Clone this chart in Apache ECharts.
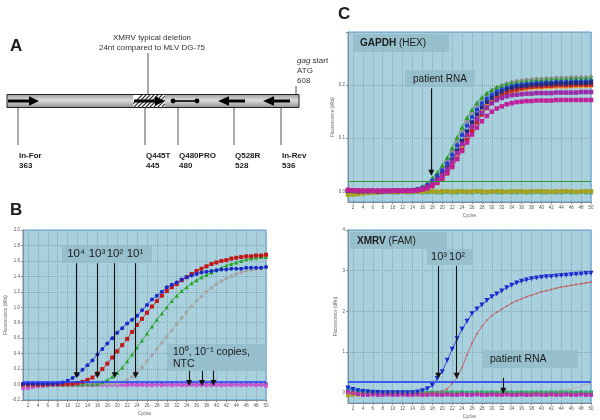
<!DOCTYPE html>
<html><head><meta charset="utf-8">
<script src="https://cdn.jsdelivr.net/npm/echarts@6/dist/echarts.min.js"></script>
<style>html,body{margin:0;padding:0;background:#fff}#c{width:600px;height:420px}</style>
</head><body><div id="c"></div>
<script>
// ---------- data ----------
const cycles = [1,2,3,4,5,6,7,8,9,10,11,12,13,14,15,16,17,18,19,20,21,22,23,24,25,26,27,28,29,30,31,32,33,34,35,36,37,38,39,40,41,42,43,44,45,46,47,48,49,50];
const cycleTicks = [2,4,6,8,10,12,14,16,18,20,22,24,26,28,30,32,34,36,38,40,42,44,46,48,50];
const cTopYTicks = [0,0.1,0.2,0.3];
const cTopYLabels = [0,0.1,0.2];
const cBotYTicks = [0,1,2,3,4];

// Panel B: standard dilution series
const b1e4 = [0.01,0.01,0.01,0.01,0.01,0.01,0.01,0.015,0.025,0.05, 0.085,0.13,0.19,0.25,0.31,0.39,0.46,0.53,0.60,0.67, 0.73,0.79,0.84,0.89,0.96,1.03,1.10,1.15,1.20,1.26, 1.29,1.32,1.36,1.39,1.41,1.43,1.45,1.46,1.47,1.48, 1.49,1.49,1.50,1.50,1.50,1.51,1.51,1.51,1.51,1.52];
const b1e3 = [0.0,0.0,0.0,0.0,0.0,0.005,0.005,0.005,0.005,0.01, 0.01,0.02,0.035,0.06,0.09,0.14,0.2,0.27,0.35,0.43, 0.51,0.59,0.68,0.77,0.85,0.93,1.01,1.08,1.15,1.21, 1.26,1.30,1.35,1.39,1.43,1.47,1.50,1.53,1.56,1.58, 1.60,1.61,1.63,1.64,1.65,1.66,1.66,1.67,1.67,1.68];
const b1e2 = [0,0,0,0,0,0,0,0,0,0, 0,0,0.005,0.005,0.005,0.01,0.03,0.06,0.10,0.15, 0.22,0.30,0.39,0.48,0.57,0.66,0.75,0.84,0.92,1.00, 1.08,1.15,1.21,1.26,1.31,1.35,1.39,1.42,1.45,1.48, 1.51,1.54,1.56,1.58,1.60,1.62,1.63,1.64,1.65,1.65];
const b1e1 = [0,0,0,0,0,0,0,0,0,0, 0,0,0,0,0,0,0,0.005,0.005,0.01, 0.03,0.06,0.10,0.15,0.22,0.30,0.38,0.46,0.54,0.62, 0.70,0.78,0.86,0.94,1.01,1.08,1.14,1.20,1.25,1.30, 1.34,1.37,1.40,1.43,1.45,1.47,1.48,1.49,1.50,1.51];
const b1e0 = [-0.05,-0.045,-0.035,-0.025,-0.02,-0.015,-0.01,-0.01,-0.01,-0.01, -0.01,-0.005,-0.01,-0.005,-0.01,-0.005,-0.01,-0.01,-0.005,-0.01, -0.005,-0.01,-0.005,-0.01,-0.005,-0.01,-0.01,-0.005,-0.01,-0.005, -0.01,-0.005,-0.01,-0.01,-0.005,-0.01,-0.005,-0.01,-0.01,-0.005, -0.01,-0.005,-0.01,-0.005,-0.01,-0.01,-0.005,-0.01,-0.005,-0.02];
const b1em1 = [0.0,0.0,0.005,0.005,0.0,0.005,0.0,0.005,0.0,0.0, 0.005,0.0,0.0,0.005,0.0,0.0,0.005,0.0,0.0,0.005, 0.0,0.0,0.005,0.0,0.0,0.005,0.0,0.0,0.005,0.0, 0.0,0.005,0.0,0.0,0.005,0.0,0.0,0.005,0.0,0.0, 0.005,0.0,0.0,0.005,0.0,0.0,0.005,0.0,0.0,0.005];
const bNTC = [0.015,0.012,0.01,0.008,0.006,0.005,0.01,0.005,0.005,0.01, 0.005,0.005,0.01,0.005,0.005,0.01,0.005,0.005,0.01,0.005, 0.005,0.01,0.005,0.005,0.01,0.005,0.005,0.01,0.005,0.005, 0.01,0.005,0.005,0.01,0.005,0.005,0.01,0.005,0.005,0.01, 0.005,0.005,0.01,0.005,0.005,0.01,0.005,0.005,0.01,0.005];
const bThreshold = 0.03;

// Panel C top: GAPDH (HEX)
const gGreen = [0.001,0.001,0.0,0.001,0.001,0.0,0.001,0.001,0.001,0.001, 0.001,0.002,0.002,0.003,0.005,0.009,0.016,0.025,0.036,0.049, 0.064,0.082,0.102,0.121,0.139,0.154,0.167,0.177,0.185,0.191, 0.196,0.199,0.202,0.204,0.205,0.206,0.207,0.208,0.209,0.209, 0.21,0.21,0.211,0.211,0.211,0.212,0.212,0.212,0.212,0.213];
const gGray = [0.001,0.001,0.001,0.001,0.001,0.0,0.001,0.001,0.001,0.001, 0.001,0.002,0.002,0.003,0.004,0.008,0.014,0.022,0.032,0.044, 0.058,0.075,0.094,0.114,0.133,0.149,0.163,0.174,0.183,0.19, 0.196,0.2,0.203,0.206,0.208,0.209,0.21,0.211,0.212,0.212, 0.213,0.213,0.214,0.214,0.214,0.215,0.215,0.215,0.215,0.216];
const gBlue = [0.002,0.001,0.001,0.001,0.0,0.001,0.001,0.001,0.0,0.001, 0.001,0.001,0.002,0.002,0.004,0.007,0.012,0.02,0.029,0.04, 0.053,0.069,0.087,0.106,0.124,0.14,0.154,0.166,0.175,0.182, 0.188,0.192,0.195,0.198,0.2,0.201,0.202,0.203,0.204,0.204, 0.205,0.205,0.206,0.206,0.206,0.207,0.207,0.207,0.207,0.208];
const gNavy = [0.001,0.001,0.001,0.0,0.001,0.001,0.0,0.001,0.001,0.001, 0.001,0.001,0.001,0.002,0.003,0.005,0.009,0.015,0.023,0.033, 0.045,0.06,0.077,0.095,0.113,0.13,0.145,0.158,0.168,0.176, 0.183,0.188,0.192,0.195,0.197,0.198,0.199,0.2,0.201,0.201, 0.202,0.202,0.203,0.203,0.203,0.204,0.204,0.204,0.204,0.205];
const gOrange = [0.0,0.001,0.001,0.001,0.001,0.0,0.001,0.001,0.001,0.0, 0.001,0.001,0.001,0.001,0.002,0.004,0.008,0.013,0.02,0.029, 0.04,0.054,0.07,0.087,0.105,0.122,0.137,0.15,0.161,0.169, 0.176,0.181,0.185,0.188,0.19,0.192,0.193,0.194,0.195,0.195, 0.196,0.196,0.197,0.197,0.197,0.198,0.198,0.198,0.198,0.199];
const gRed = [0.001,0.001,0.0,0.001,0.001,0.001,0.0,0.001,0.001,0.001, 0.001,0.001,0.001,0.001,0.002,0.003,0.006,0.01,0.016,0.024, 0.034,0.046,0.061,0.078,0.096,0.114,0.13,0.145,0.157,0.167, 0.175,0.181,0.186,0.19,0.192,0.194,0.196,0.197,0.198,0.198, 0.199,0.199,0.2,0.2,0.2,0.2,0.201,0.201,0.201,0.201];
const gPurple = [0.002,0.002,0.001,0.001,0.001,0.001,0.001,0.0,0.001,0.001, 0.001,0.001,0.001,0.002,0.003,0.005,0.009,0.015,0.022,0.031, 0.042,0.056,0.072,0.089,0.106,0.122,0.136,0.148,0.158,0.166, 0.172,0.176,0.179,0.181,0.182,0.183,0.184,0.184,0.185,0.185, 0.185,0.185,0.186,0.186,0.186,0.186,0.186,0.187,0.187,0.187];
const gMagenta = [0.003,0.002,0.002,0.001,0.001,0.001,0.001,0.001,0.001,0.001, 0.001,0.001,0.001,0.001,0.002,0.003,0.006,0.011,0.017,0.025, 0.035,0.047,0.061,0.076,0.092,0.107,0.12,0.132,0.142,0.15, 0.156,0.16,0.164,0.166,0.168,0.169,0.17,0.17,0.171,0.171, 0.171,0.171,0.172,0.172,0.172,0.172,0.172,0.172,0.172,0.172];
const gNtcOlive = [-0.006,-0.006,-0.005,-0.004,-0.003,-0.002,-0.002,-0.001,-0.001,-0.001, -0.001,0.0,-0.001,0.0,0.0,-0.001,0.0,0.0,-0.001,0.0, 0.0,-0.001,0.0,0.0,-0.001,0.0,0.0,0.0,-0.001,0.0, 0.0,0.0,-0.001,0.0,0.0,0.0,-0.001,0.0,0.0,0.0, 0.0,-0.001,0.0,0.0,0.0,0.0,-0.001,0.0,0.0,0.0];
const gNtcTeal = [-0.003,-0.003,-0.003,-0.002,-0.002,-0.002,-0.002,-0.002,-0.001,-0.002, -0.002,-0.001,-0.002,-0.002,-0.001,-0.002,-0.002,-0.001,-0.002,-0.002, -0.001,-0.002,-0.002,-0.001,-0.002,-0.002,-0.001,-0.002,-0.002,-0.001, -0.002,-0.002,-0.001,-0.002,-0.002,-0.001,-0.002,-0.002,-0.001,-0.002, -0.002,-0.001,-0.002,-0.002,-0.001,-0.002,-0.002,-0.001,-0.002,-0.002];
const gNtcLime = [0.001,0.001,0.001,0.001,0.001,0.001,0.002,0.001,0.001,0.002, 0.001,0.001,0.002,0.001,0.001,0.002,0.001,0.001,0.002,0.001, 0.001,0.002,0.001,0.001,0.002,0.001,0.001,0.002,0.001,0.001, 0.002,0.001,0.001,0.002,0.001,0.001,0.002,0.001,0.001,0.002, 0.001,0.001,0.002,0.001,0.001,0.002,0.001,0.001,0.002,0.001];
const gThreshold = 0.018;

// Panel C bottom: XMRV (FAM)
const x1e3 = [0.12,0.08,0.05,0.03,0.02,0.01,0.01,0.0,0.0,0.0, 0.0,0.0,0.0,0.0,0.02,0.05,0.1,0.18,0.35,0.52, 0.8,1.07,1.33,1.56,1.76,1.94,2.06,2.16,2.27,2.36, 2.43,2.5,2.58,2.64,2.7,2.74,2.77,2.8,2.82,2.84, 2.85,2.86,2.87,2.88,2.89,2.9,2.91,2.92,2.93,2.94];
const x1e2 = [0,0,0,0,0,0,0,0,0,0, 0,0,0,0,0,0,0,0.01,0.02,0.04, 0.1,0.22,0.37,0.63,0.93,1.22,1.45,1.63,1.78,1.9, 1.98,2.06,2.13,2.2,2.26,2.31,2.36,2.4,2.44,2.48, 2.51,2.54,2.57,2.6,2.62,2.64,2.66,2.68,2.7,2.72];
const xLate = [0,0,0,0,0,0,0,0,0,0, 0,0,0,0,0,0,0,0,0,0, 0,0,0,0,0,0,0,0,0,0, 0,0,0,0,0,0,0,0,0,0.01, 0.02,0.03,0.045,0.06,0.08,0.1,0.13,0.16,0.2,0.24];
const xMag = [0.02,0.0,-0.03,-0.05,-0.05,-0.04,-0.05,-0.05,-0.04,-0.05, -0.05,-0.04,-0.05,-0.05,-0.04,-0.05,-0.05,-0.04,-0.05,-0.05, -0.04,-0.05,-0.05,-0.04,-0.05,-0.05,-0.04,-0.05,-0.05,-0.04, -0.05,-0.05,-0.04,-0.05,-0.05,-0.04,-0.05,-0.05,-0.04,-0.05, -0.05,-0.04,-0.05,-0.05,-0.04,-0.05,-0.05,-0.04,-0.05,-0.05];
const xGreen = [0.06,0.05,0.04,0.03,0.03,0.02,0.03,0.02,0.02,0.03, 0.02,0.03,0.02,0.02,0.03,0.02,0.02,0.03,0.02,0.02, 0.03,0.02,0.02,0.03,0.02,0.02,0.03,0.02,0.02,0.03, 0.02,0.02,0.03,0.02,0.02,0.03,0.02,0.02,0.03,0.02, 0.02,0.03,0.02,0.02,0.03,0.02,0.02,0.03,0.02,0.02];
const xOlive = [-0.06,-0.05,-0.04,-0.03,-0.02,-0.02,-0.01,-0.02,-0.01,-0.02, -0.01,-0.02,-0.01,-0.02,-0.01,-0.02,-0.01,-0.02,-0.01,-0.02, -0.01,-0.02,-0.01,-0.02,-0.01,-0.02,-0.01,-0.02,-0.01,-0.02, -0.01,-0.02,-0.01,-0.02,-0.01,-0.02,-0.01,-0.02,-0.01,-0.02, -0.01,-0.02,-0.01,-0.02,-0.01,-0.02,-0.01,-0.02,-0.01,-0.02];
const xTeal = [0.1,0.08,0.06,0.05,0.04,0.03,0.02,0.02,0.01,0.01, 0.0,0.01,0.0,0.01,0.0,0.01,0.0,0.01,0.0,0.01, 0.0,0.01,0.0,0.01,0.0,0.01,0.0,0.01,0.0,0.01, 0.0,0.01,0.0,0.01,0.0,0.01,0.0,0.01,0.0,0.01, 0.0,0.01,0.0,0.01,0.0,0.01,0.0,0.01,0.0,0.01];
const xOrange = [-0.03,-0.03,-0.02,-0.03,-0.02,-0.03,-0.02,-0.03,-0.02,-0.03, -0.02,-0.03,-0.02,-0.03,-0.02,-0.03,-0.02,-0.03,-0.02,-0.03, -0.02,-0.03,-0.02,-0.03,-0.02,-0.03,-0.02,-0.03,-0.02,-0.03, -0.02,-0.03,-0.02,-0.03,-0.02,-0.03,-0.02,-0.03,-0.02,-0.03, -0.02,-0.03,-0.02,-0.03,-0.02,-0.03,-0.02,-0.03,-0.02,-0.03];
const xThreshold = 0.26;

// annotation arrows in data coordinates: [cycle, fromY, toY]
const bArrowsBig = [[11.8,1.57,0.12],[16,1.57,0.12],[19.5,1.57,0.12],[23.7,1.57,0.12]];
const bArrowsSmall = [[34.5,0.19,0.02],[37.1,0.19,0.02],[39.4,0.2,0.02]];
const cTopArrows = [[17.8,0.194,0.035]];
const cBotArrows = [[19.2,3.12,0.42],[22.9,3.12,0.42],[32.3,0.37,0.05]];

// ---------- chart ----------
const FONT = 'Liberation Sans, Arial, sans-serif';
const PLOT_BG = '#a9d1dd';
const BOX = '#95bdca';
const grids = [
  {left:23, top:230, width:243, height:170},
  {left:348, top:32, width:243, height:170},
  {left:348, top:230, width:243, height:173}
];

function pts(arr){ return cycles.map((c,i)=>[c, arr[i]]); }
function ser(arr, gi, color, symbol, size, extra){
  return Object.assign({
    type:'line', xAxisIndex:gi, yAxisIndex:gi, data:pts(arr),
    symbol:symbol, symbolSize:size, showSymbol:true,
    itemStyle:{color:color}, lineStyle:{color:color, width:0.8},
    silent:true, animation:false, z:3
  }, extra||{});
}
function arrows(list){
  return {
    silent:true, animation:false, symbol:['none','triangle'], symbolSize:6,
    label:{show:false}, lineStyle:{color:'#111', width:1.1, type:'solid'},
    itemStyle:{color:'#111'},
    data:list.map(a=>[{coord:[a[0],a[1]]},{coord:[a[0],a[2]]}])
  };
}
function thresh(v, color, w){
  return {silent:true, animation:false, symbol:['none','none'], label:{show:false},
    lineStyle:{color:color, width:w, type:'solid'}, data:[{yAxis:v}]};
}

const axisCommon = {
  axisLine:{show:true, onZero:false, lineStyle:{color:'#8a8a8a', width:1}},
  axisLabel:{fontSize:4.5, color:'#555', fontFamily:FONT, margin:3},
  nameTextStyle:{fontSize:4.5, color:'#666', fontFamily:FONT},
  splitLine:{show:true, lineStyle:{color:'#86a6b0', type:'dotted', width:1}}
};
function xAx(gi){
  return Object.assign({}, axisCommon, {
    gridIndex:gi, type:'value', min:1, max:50, name:'Cycles', nameLocation:'middle', nameGap:11,
    axisTick:{show:true, length:2, customValues:cycleTicks, lineStyle:{color:'#8a8a8a'}},
    axisLabel:Object.assign({}, axisCommon.axisLabel, {customValues:cycleTicks})
  });
}
const yAxes = [
  Object.assign({}, axisCommon, {gridIndex:0, type:'value', min:-0.2, max:2.0, interval:0.2,
    name:'Fluorescence (dRn)', nameLocation:'middle', nameGap:12,
    axisTick:{show:true, length:2},
    axisLabel:Object.assign({}, axisCommon.axisLabel, {formatter:v=>v.toFixed(1)})}),
  Object.assign({}, axisCommon, {gridIndex:1, type:'value', min:-0.02, max:0.3,
    name:'Fluorescence (dRn)', nameLocation:'middle', nameGap:12,
    axisTick:{show:true, length:2, customValues:cTopYTicks},
    axisLabel:Object.assign({}, axisCommon.axisLabel, {customValues:cTopYLabels, formatter:v=>v.toFixed(1)})}),
  Object.assign({}, axisCommon, {gridIndex:2, type:'value', min:-0.25, max:4,
    name:'Fluorescence (dRn)', nameLocation:'middle', nameGap:10,
    axisTick:{show:true, length:2, customValues:cBotYTicks},
    axisLabel:Object.assign({}, axisCommon.axisLabel, {customValues:cBotYTicks, formatter:v=>String(v)})})
];

const series = [
  // Panel B
  ser(bNTC, 0, '#9a9a9a', 'diamond', 4),
  ser(b1em1, 0, '#8a4fb0', 'rect', 3.5),
  ser(b1e0, 0, '#d452d4', 'rect', 3.5, {markLine:thresh(bThreshold, '#1f3cff', 1.5)}),
  ser(b1e1, 0, '#a4a4a4', 'diamond', 4.5),
  ser(b1e2, 0, '#23a323', 'triangle', 4),
  ser(b1e3, 0, '#c01818', 'rect', 4),
  ser(b1e4, 0, '#1a28c8', 'circle', 4, {markLine:arrows(bArrowsBig.concat(bArrowsSmall))}),
  // Panel C top
  ser(gNtcTeal, 1, '#3aa39a', 'rect', 4),
  ser(gNtcLime, 1, '#8cb82a', 'triangle', 4),
  ser(gNtcOlive, 1, '#a6a21e', 'rect', 4.5, {markLine:thresh(gThreshold, '#2f9a2f', 1)}),
  ser(gGray, 1, '#8f8f8f', 'diamond', 5),
  ser(gGreen, 1, '#2a9d2a', 'triangle', 5),
  ser(gOrange, 1, '#f59a14', 'circle', 4.5),
  ser(gRed, 1, '#c02525', 'rect', 4.5),
  ser(gBlue, 1, '#2540d0', 'circle', 4.5),
  ser(gNavy, 1, '#202a80', 'rect', 4),
  ser(gPurple, 1, '#9a2aa8', 'rect', 4.5),
  ser(gMagenta, 1, '#c0209a', 'rect', 4.5, {markLine:arrows(cTopArrows)}),
  // Panel C bottom
  ser(xOrange, 2, '#f08a10', 'rect', 4),
  ser(xOlive, 2, '#a8a020', 'rect', 4),
  ser(xTeal, 2, '#28a0a0', 'rect', 4),
  ser(xGreen, 2, '#30b040', 'triangle', 4),
  ser(xMag, 2, '#b62cb6', 'rect', 4, {markLine:thresh(xThreshold, '#3c5cf2', 2)}),
  ser(xLate, 2, '#b0a8a8', 'none', 1, {lineStyle:{color:'#b8aaaa', width:1}}),
  ser(x1e2, 2, '#c06060', 'circle', 2, {lineStyle:{color:'#c05a5a', width:0.9}}),
  ser(x1e3, 2, '#1c2ad0', 'triangle', 5, {symbolRotate:180, markLine:arrows(cBotArrows)})
];

function box(x,y,w,h){ return {type:'rect', z:50, shape:{x:x,y:y,width:w,height:h}, style:{fill:BOX, opacity:0.9}}; }
function txt(t, x, y, size, opts){
  const o = opts||{};
  return {type:'text', z:60, x:x, y:y, style:Object.assign({text:t, fontSize:size, fontFamily:FONT,
    fill:'#1a1a1a', align:o.align||'left', verticalAlign:'middle',
    textAlign:o.align||'left', textVerticalAlign:'middle', fontWeight:o.bold?'bold':'normal',
    fontStyle:o.italic?'italic':'normal'}, o.style||{})};
}
function line(x1,y1,x2,y2,c,w,z){ return {type:'line', z:z||40, shape:{x1:x1,y1:y1,x2:x2,y2:y2}, style:{stroke:c||'#444', lineWidth:w||1}}; }
function poly(points, fill){ return {type:'polygon', z:45, shape:{points:points}, style:{fill:fill||'#000'}}; }

const hatch = [];
for (let k = 0; k < 11; k++) {
  const x0 = 130 + k*4;
  hatch.push({type:'line', z:43, shape:{x1:x0, y1:107, x2:x0+12, y2:95}, style:{stroke:'#333', lineWidth:1.2}});
}

const graphic = [
  // panel letters
  txt('A', 10, 46, 17, {bold:true}),
  txt('B', 10, 210, 17, {bold:true}),
  txt('C', 338, 14, 17, {bold:true}),
  // panel A
  txt('XMRV typical deletion', 152, 38, 8, {align:'center', style:{fill:'#333'}}),
  txt('24nt compared to MLV DG-75', 152, 48, 8, {align:'center', style:{fill:'#333'}}),
  line(148, 53, 148, 95, '#555', 1),
  {type:'text', z:60, x:297, y:61, style:{text:'{i|gag} start', fontSize:8, fontFamily:FONT, fill:'#333', verticalAlign:'middle', textVerticalAlign:'middle', rich:{i:{fontStyle:'italic', fontSize:8, fontFamily:FONT, fill:'#333'}}}},
  txt('ATG', 297, 71, 8, {style:{fill:'#333'}}),
  txt('608', 297, 81, 8, {style:{fill:'#333'}}),
  line(296, 86, 296, 95, '#555', 1),
  {type:'rect', z:41, shape:{x:7, y:94.5, width:292, height:13}, style:{stroke:'#222', lineWidth:1,
    fill:{type:'linear', x:0, y:0, x2:0, y2:1, colorStops:[{offset:0, color:'#9a9a9a'},{offset:0.45, color:'#dcdcdc'},{offset:1, color:'#8c8c8c'}]}}},
  {type:'rect', z:42, shape:{x:133, y:95, width:32, height:12}, style:{fill:'#ffffff'}},
  {type:'group', z:43, children:hatch, clipPath:{type:'rect', shape:{x:133, y:95, width:32, height:12}}},
  poly([[8,99.4],[29,99.4],[29,96.2],[39,101],[29,105.8],[29,102.6],[8,102.6]]),
  poly([[134,99.4],[155,99.4],[155,96.2],[165,101],[155,105.8],[155,102.6],[134,102.6]]),
  line(173, 101, 197, 101, '#000', 1.6, 46),
  {type:'circle', z:46, shape:{cx:173, cy:101, r:2.4}, style:{fill:'#000'}},
  {type:'circle', z:46, shape:{cx:197, cy:101, r:2.4}, style:{fill:'#000'}},
  poly([[245,99.4],[229,99.4],[229,96.2],[218,101],[229,105.8],[229,102.6],[245,102.6]]),
  poly([[290,99.4],[274,99.4],[274,96.2],[263,101],[274,105.8],[274,102.6],[290,102.6]]),
  line(18, 108, 18, 145, '#555', 1),
  line(145, 108, 145, 145, '#555', 1),
  line(178, 103, 178, 145, '#555', 1),
  line(234, 108, 234, 145, '#555', 1),
  line(281, 108, 281, 145, '#555', 1),
  txt('In-For', 19, 156, 8, {bold:true}), txt('363', 19, 166, 8, {bold:true}),
  txt('Q445T', 146, 156, 8, {bold:true}), txt('445', 146, 166, 8, {bold:true}),
  txt('Q480PRO', 179, 156, 8, {bold:true}), txt('480', 179, 166, 8, {bold:true}),
  txt('Q528R', 235, 156, 8, {bold:true}), txt('528', 235, 166, 8, {bold:true}),
  txt('In-Rev', 282, 156, 8, {bold:true}), txt('536', 282, 166, 8, {bold:true}),
  // panel B boxes
  box(62, 245, 90, 18),
  txt('10⁴', 76, 254, 11.5, {align:'center'}),
  txt('10³', 97, 254, 11.5, {align:'center'}),
  txt('10²', 115, 254, 11.5, {align:'center'}),
  txt('10¹', 135, 254, 11.5, {align:'center'}),
  box(168, 344, 98, 27),
  txt('10⁰, 10⁻¹ copies,', 173, 352, 10.5),
  txt('NTC', 173, 364, 10.5),
  // panel C top boxes
  box(353, 34, 96, 18),
  {type:'text', z:60, x:360, y:43, style:{text:'{b|GAPDH} (HEX)', fontSize:10, fontFamily:FONT, fill:'#1a1a1a', verticalAlign:'middle', textVerticalAlign:'middle', rich:{b:{fontWeight:'bold', fontSize:10, fontFamily:FONT, fill:'#1a1a1a'}}}},
  box(405, 70, 70, 17),
  txt('patient RNA', 440, 79, 10, {align:'center'}),
  // panel C bottom boxes
  box(350, 232, 97, 17),
  {type:'text', z:60, x:357, y:241, style:{text:'{b|XMRV} (FAM)', fontSize:10, fontFamily:FONT, fill:'#1a1a1a', verticalAlign:'middle', textVerticalAlign:'middle', rich:{b:{fontWeight:'bold', fontSize:10, fontFamily:FONT, fill:'#1a1a1a'}}}},
  box(427, 249, 46, 16),
  txt('10³', 439, 257, 11, {align:'center'}),
  txt('10²', 457, 257, 11, {align:'center'}),
  box(483, 350, 95, 18),
  txt('patient RNA', 490, 359, 10.5)
];

const chart = echarts.init(document.getElementById('c'), null, {renderer:'canvas'});
chart.setOption({
  animation:false,
  backgroundColor:'#ffffff',
  grid:grids.map(g=>Object.assign({show:true, backgroundColor:PLOT_BG, borderColor:'#4e9de6', borderWidth:1}, g)),
  xAxis:[xAx(0), xAx(1), xAx(2)],
  yAxis:yAxes,
  series:series,
  graphic:graphic
});
</script>
</body></html>
